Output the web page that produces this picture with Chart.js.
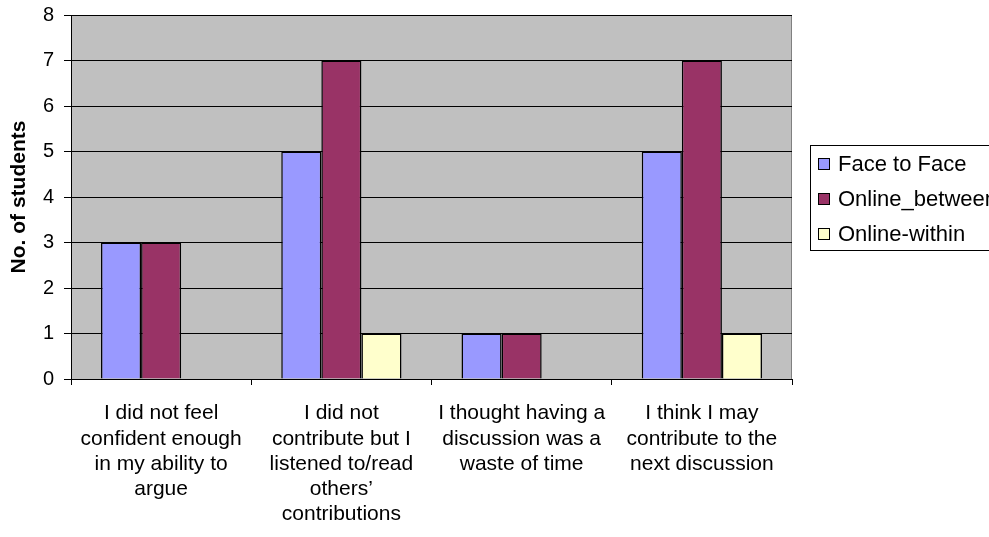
<!DOCTYPE html>
<html>
<head>
<meta charset="utf-8">
<script src="https://cdn.jsdelivr.net/npm/chart.js"></script>
<style>
  html, body { margin: 0; padding: 0; background: #fff; }
  #wrap { width: 989px; height: 537px; }
</style>
</head>
<body>
<div id="wrap"><canvas id="studentsChart" width="989" height="537"></canvas></div>
<script>
var categories = [
    ['I did not feel', 'confident enough', 'in my ability to', 'argue'],
    ['I did not', 'contribute but I', 'listened to/read', 'others\u2019', 'contributions'],
    ['I thought having a', 'discussion was a', 'waste of time'],
    ['I think I may', 'contribute to the', 'next discussion']
];
var faceToFace = [3, 5, 1, 5];
var onlineBetween = [3, 7, 1, 7];
var onlineWithin = [0, 1, 0, 1];
var seriesNames = ['Face to Face', 'Online_between', 'Online-within'];
var seriesColors = ['#9999FF', '#993366', '#FFFFCC'];

var font = 'Liberation Sans, Arial, sans-serif';

// grey plot area like the old excel charts
var plotBackground = {
    id: 'plotBackground',
    beforeDraw: function(chart) {
        var a = chart.chartArea, c = chart.ctx;
        c.save();
        c.fillStyle = '#C0C0C0';
        c.fillRect(a.left, a.top, a.right - a.left, a.bottom - a.top);
        c.strokeStyle = '#808080';
        c.lineWidth = 1;
        c.strokeRect(a.left + 0.5, a.top + 0.5, a.right - a.left - 1, a.bottom - a.top);
        c.restore();
    }
};

// boxed legend on the right, partly cut off by the page edge
var boxLegend = {
    id: 'boxLegend',
    afterDraw: function(chart) {
        var c = chart.ctx;
        c.save();
        c.fillStyle = '#fff';
        c.fillRect(810, 145, 200, 105);
        c.strokeStyle = '#000';
        c.lineWidth = 1;
        c.strokeRect(810.5, 145.5, 200, 105);
        c.font = '22px ' + font;
        c.textBaseline = 'middle';
        for (var i = 0; i < seriesNames.length; i++) {
            var y = 164 + i * 35;
            c.fillStyle = seriesColors[i];
            c.fillRect(818.5, y - 5.5, 11, 11);
            c.strokeStyle = '#000';
            c.strokeRect(818.5, y - 5.5, 11, 11);
            c.fillStyle = '#000';
            c.fillText(seriesNames[i], 838, y + 1);
        }
        c.restore();
    }
};

var datasets = [faceToFace, onlineBetween, onlineWithin].map(function(d, i) {
    return {
        label: seriesNames[i],
        data: d,
        backgroundColor: seriesColors[i],
        borderColor: '#000',
        borderWidth: 1.5,
        categoryPercentage: 0.667,
        barPercentage: 1.0
    };
});

var ctx = document.getElementById('studentsChart').getContext('2d');
var studentsChart = new Chart(ctx, {
    type: 'bar',
    data: { labels: categories, datasets: datasets },
    plugins: [plotBackground, boxLegend],
    options: {
        responsive: false,
        animation: false,
        layout: {
            padding: { top: 15, right: 197, left: 0, bottom: 0 }
        },
        plugins: {
            legend: { display: false },
            tooltip: { enabled: false }
        },
        scales: {
            x: {
                offset: true,
                grid: {
                    offset: true,
                    drawOnChartArea: false,
                    drawTicks: true,
                    tickLength: 6,
                    color: '#000'
                },
                border: { color: '#000' },
                ticks: {
                    color: '#000',
                    font: { family: font, size: 21, lineHeight: 1.2 },
                    padding: 16,
                    maxRotation: 0,
                    autoSkip: false
                },
                afterFit: function(scale) { scale.height = 158; }
            },
            y: {
                min: 0,
                max: 8,
                ticks: {
                    stepSize: 1,
                    color: '#000',
                    font: { family: font, size: 20 },
                    padding: 10
                },
                grid: {
                    color: '#000',
                    tickLength: 7,
                    drawTicks: true
                },
                border: { color: '#000' },
                title: {
                    display: true,
                    text: 'No. of students',
                    color: '#000',
                    font: { family: font, size: 21, weight: 'bold' },
                    padding: { top: 7, bottom: 0 }
                },
                afterFit: function(scale) {
                    scale.width = 71;
                    // let the top label overhang instead of pushing the plot down
                    scale.paddingTop = 0;
                    scale.paddingBottom = 0;
                }
            }
        }
    }
});
</script>
</body>
</html>
